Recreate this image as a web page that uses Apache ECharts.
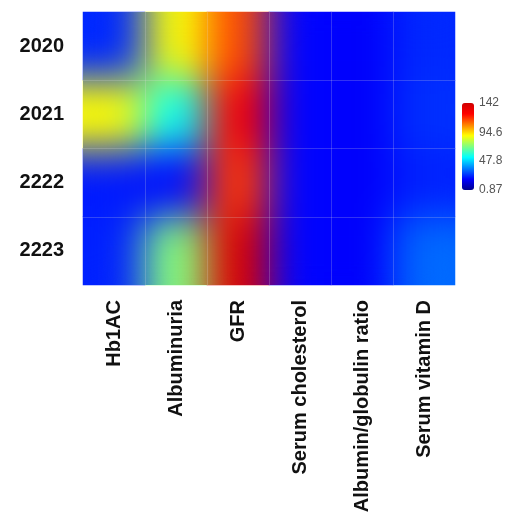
<!DOCTYPE html>
<html>
<head>
<meta charset="utf-8">
<script src="https://cdn.jsdelivr.net/npm/echarts@6/dist/echarts.min.js"></script>
<style>
  html, body { margin: 0; padding: 0; background: #fff; }
  .layer { position: absolute; left: 0; top: 0; width: 515px; height: 519px; }
  #clip { clip-path: inset(12px 60px 234px 83px); }
  #blur { filter: blur(20px) url(#opaque); }
</style>
</head>
<body>
<svg width="0" height="0" style="position:absolute">
  <filter id="opaque" color-interpolation-filters="sRGB">
    <feComponentTransfer>
      <feFuncA type="linear" slope="0" intercept="1"/>
    </feComponentTransfer>
  </filter>
</svg>
<div id="base" class="layer"></div>
<div id="clip" class="layer"><div id="blur" class="layer"></div></div>
<div id="topLayer" class="layer"></div>
<script>
// ---- data ----
const categories = ['Hb1AC', 'Albuminuria', 'GFR', 'Serum cholesterol', 'Albumin/globulin ratio', 'Serum vitamin D'];
const years = ['2020', '2021', '2222', '2223'];
const v2020 = [24, 88, 114, 19, 18, 24];
const v2021 = [89, 55, 126, 19, 18, 25];
const v2222 = [22, 20, 117, 19, 18, 23];
const v2223 = [23, 72, 137, 19, 18, 33];
const colorMin = 0.87;
const colorMax = 142;
const colorbarTicks = [0.87, 47.8, 94.6, 142];

const rows = [v2020, v2021, v2222, v2223];
const heatData = [];
rows.forEach((row, yi) => row.forEach((v, xi) => heatData.push([xi, yi, v])));

const jet = ['#00008f', '#0000ff', '#0080ff', '#00ffff', '#80ff80', '#ffff00', '#ff8000', '#ff0000', '#d00000'];
const FONT = 'Liberation Sans, Arial, sans-serif';
const gridMain = { left: 83, right: 60, top: 12, bottom: 234 };

function heatSeries() {
  return { type: 'heatmap', xAxisIndex: 0, yAxisIndex: 0, data: heatData, itemStyle: { borderWidth: 0 } };
}

// base layer: labels, colorbar, sharp heatmap
const baseChart = echarts.init(document.getElementById('base'), null, { renderer: 'canvas' });
baseChart.setOption({
  animation: false,
  backgroundColor: '#fff',
  grid: [gridMain, { left: 462, width: 12, top: 103, height: 87 }],
  xAxis: [
    { type: 'category', data: categories, gridIndex: 0,
      axisLine: { show: false }, axisTick: { show: false }, splitLine: { show: false },
      axisLabel: { rotate: 90, margin: 15, fontSize: 20, fontWeight: 'bold', color: '#111', fontFamily: FONT, interval: 0 } },
    { type: 'value', gridIndex: 1, show: false, min: 0, max: 1 }
  ],
  yAxis: [
    { type: 'category', data: years, gridIndex: 0, inverse: true,
      axisLine: { show: false }, axisTick: { show: false }, splitLine: { show: false },
      axisLabel: { margin: 19, fontSize: 20, fontWeight: 'bold', color: '#111', fontFamily: FONT } },
    { type: 'value', gridIndex: 1, min: colorMin, max: colorMax, position: 'right',
      axisLine: { show: false }, axisTick: { show: false }, splitLine: { show: false },
      axisLabel: { customValues: colorbarTicks, margin: 5, fontSize: 12, color: '#555', fontFamily: FONT } }
  ],
  visualMap: {
    type: 'continuous', min: colorMin, max: colorMax, seriesIndex: 0,
    left: 462, top: 103, itemWidth: 12, itemHeight: 87, padding: 0,
    calculable: false, text: null, showLabel: false,
    inRange: { color: jet }
  },
  series: [heatSeries()]
});

// blurred heatmap layer
const blurChart = echarts.init(document.getElementById('blur'), null, { renderer: 'canvas' });
blurChart.setOption({
  animation: false,
  grid: gridMain,
  xAxis: { type: 'category', data: categories, show: false },
  yAxis: { type: 'category', data: years, inverse: true, show: false },
  visualMap: { type: 'continuous', min: colorMin, max: colorMax, show: false, inRange: { color: jet } },
  series: [heatSeries()]
});

// top layer: faint grid lines
const lineStyle = { color: 'rgba(225,225,225,0.22)', width: 1 };
const gridChart = echarts.init(document.getElementById('topLayer'), null, { renderer: 'canvas' });
gridChart.setOption({
  animation: false,
  grid: gridMain,
  xAxis: { type: 'category', data: categories, axisLine: { show: false }, axisTick: { show: false }, axisLabel: { show: false },
    splitLine: { show: true, interval: 0, showMinLine: false, showMaxLine: false, lineStyle: lineStyle } },
  yAxis: { type: 'category', data: years, inverse: true, axisLine: { show: false }, axisTick: { show: false }, axisLabel: { show: false },
    splitLine: { show: true, interval: 0, showMinLine: false, showMaxLine: false, lineStyle: lineStyle } },
  series: []
});
</script>
</body>
</html>
